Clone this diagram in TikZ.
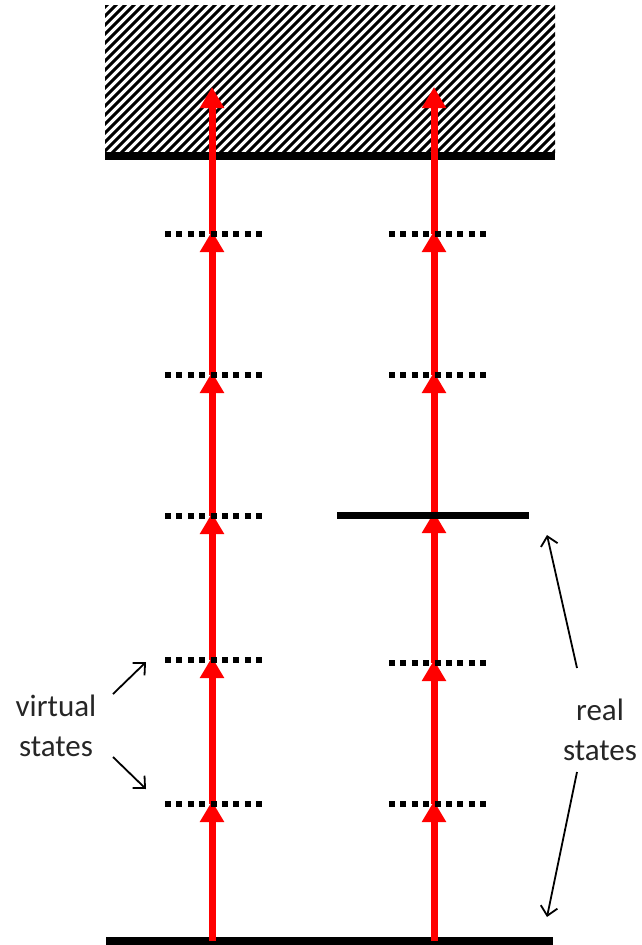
\documentclass[tikz,border=0pt]{standalone}
\usepackage{fontspec}
\setmainfont{Carlito}
\usetikzlibrary{arrows.meta}
\begin{document}
\begin{tikzpicture}[x=1pt,y=-1pt,
  level/.style={line width=7pt},
  vlevel/.style={line width=6pt, dash pattern=on 6pt off 5.4pt},
  excite/.style={red, line width=7pt, -{Triangle[length=21pt,width=23pt]}},
  note/.style={line width=1.8pt, -{Straight Barb[length=9pt,width=17pt]}},
  lbl/.style={font=\fontsize{31}{40}\selectfont, align=center, text=black!85}]
\useasboundingbox (0,0) rectangle (641,945);
% continuum (hatched)
\begin{scope}
  \clip (105,5) rectangle (555,156);
  \foreach \i in {-20,...,55} {
    \draw[line width=3pt] (105+9*\i,160) -- ++(170,-170);
  }
\end{scope}
\draw[level, line width=8pt] (105,156) coordinate (contL) -- (555,156) coordinate (contR);
% bottom ground state
\draw[level, line width=8pt] (106,941) coordinate (gL) -- (553,941) coordinate (gR);
% level coordinates, left column
\coordinate (A0) at (212,941);
\coordinate (A1) at (212,804);
\coordinate (A2) at (212,660);
\coordinate (A3) at (212,516);
\coordinate (A4) at (212,375);
\coordinate (A5) at (212,234);
\coordinate (A7) at (212,87);
% right column
\coordinate (B0) at (434,941);
\coordinate (B1) at (434,804);
\coordinate (B2) at (434,663);
\coordinate (B3) at (434,515);
\coordinate (B4) at (434,375);
\coordinate (B5) at (434,234);
\coordinate (B7) at (434,87);
% red excitation arrows
\foreach \a/\b in {0/1,1/2,2/3,3/4,4/5} {
  \draw[excite] (A\a) -- ([yshift=3pt]A\b);
  \draw[excite] (B\a) -- ([yshift=3pt]B\b);
}
\draw[excite] (A5) -- (A7);
\draw[excite] (B5) -- (B7);
% virtual levels (dotted)
\foreach \y in {234,375,516,660,804} {
  \draw[vlevel] (165,\y) -- (263,\y);
}
\foreach \y in {234,375,663,804} {
  \draw[vlevel] (389,\y) -- (487,\y);
}
% real intermediate state
\draw[level] (337,515) coordinate (rL) -- (529,515) coordinate (rR);
% labels
\node[lbl] (virt) at (56,726) {virtual\\states};
\node[lbl] (real) at (600,730) {real\\states};
\coordinate (v1) at (146,662);
\coordinate (v2) at (146,789);
\coordinate (r1) at (547,535);
\coordinate (r2) at (547,917);
\draw[note] (113,694) -- (v1);
\draw[note] (113,757) -- (v2);
\draw[note] (577,668) -- (r1);
\draw[note] (577,772) -- (r2);
\end{tikzpicture}
\end{document}
